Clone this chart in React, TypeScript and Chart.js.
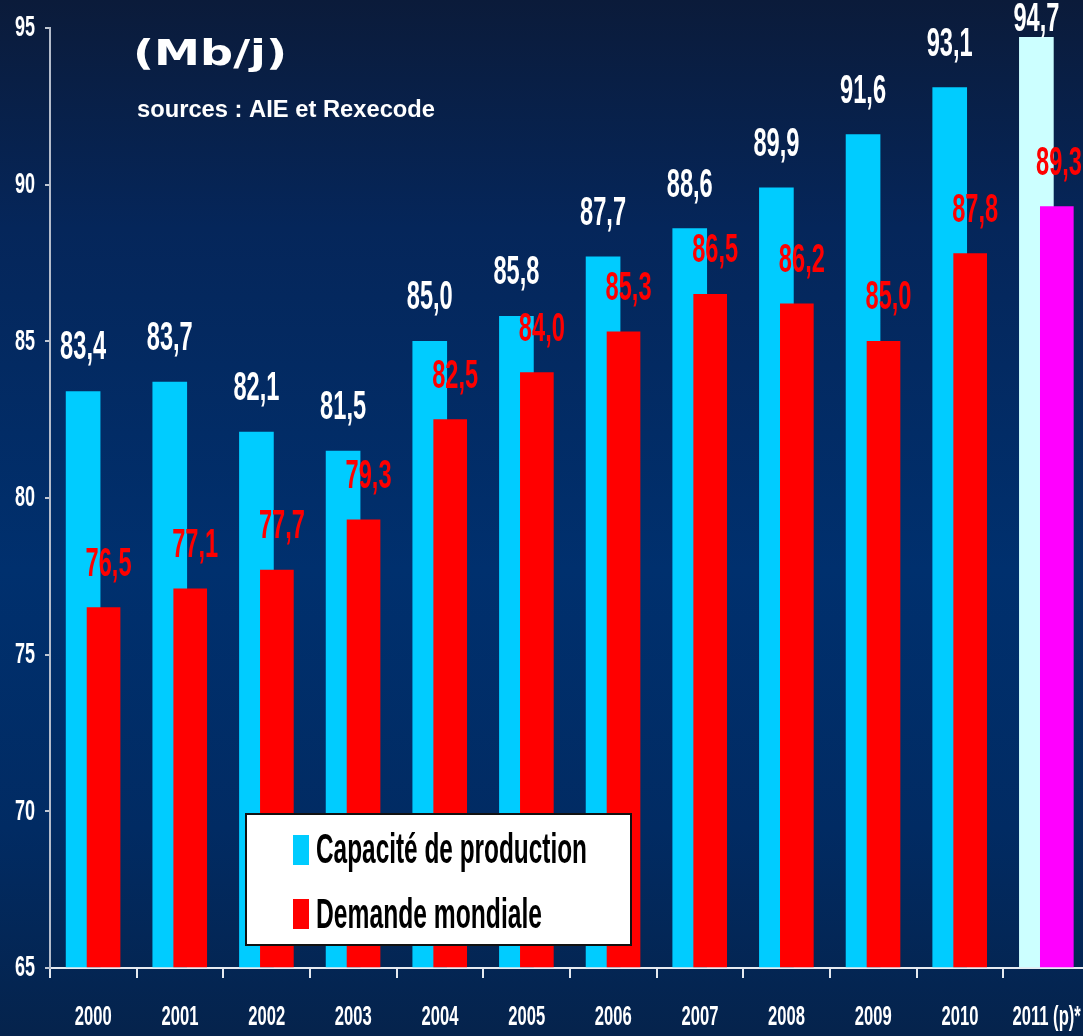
import React, { useEffect, useRef } from 'react';
import { Chart, registerables, LinearScale } from 'chart.js';

// ---------- data ----------
const years = ['2000', '2001', '2002', '2003', '2004', '2005', '2006', '2007', '2008', '2009', '2010', '2011 (p)*'];
const capacity = [83.4, 83.7, 82.1, 81.5, 85.0, 85.8, 87.7, 88.6, 89.9, 91.6, 93.1, 94.7];
const demand = [76.5, 77.1, 77.7, 79.3, 82.5, 84.0, 85.3, 86.5, 86.2, 85.0, 87.8, 89.3];
const yTicks = [65, 70, 75, 80, 85, 90, 95];
const seriesNames = ['Capacité de production', 'Demande mondiale'];
const capacityColors = ['#00CCFF', '#00CCFF', '#00CCFF', '#00CCFF', '#00CCFF', '#00CCFF', '#00CCFF', '#00CCFF', '#00CCFF', '#00CCFF', '#00CCFF', '#CCFFFF'];
const demandColors = ['#FF0000', '#FF0000', '#FF0000', '#FF0000', '#FF0000', '#FF0000', '#FF0000', '#FF0000', '#FF0000', '#FF0000', '#FF0000', '#FF00FF'];
const labelColors = ['#FFFFFF', '#FF0000'];
const unitText = '(Mb/j)';
const sourceText = 'sources : AIE et Rexecode';

// ---------- layout constants ----------
const W = 1083;
const H = 1036;
const SANS = "'Liberation Sans', Arial, sans-serif";
const GROUP_SHIFT = 0.118; // half-distance between the two bars of a year, in category units

// horizontally condensed tick labels (Arial Narrow look)
const SQUEEZE: Record<string, { sample: string; width: number }> = {
  x: { sample: '2000', width: 37 },
  y: { sample: '85', width: 20 },
};

class CondensedLinearScale extends LinearScale {
  static id = 'condensedLinear';
  static defaults = LinearScale.defaults;
  drawLabels(chartArea: any) {
    const self: any = this;
    const opts = self.options;
    if (!opts.ticks.display) return;
    const ctx: CanvasRenderingContext2D = self.ctx;
    const sq = SQUEEZE[self.id];
    const items = self.getLabelItems(chartArea);
    for (const item of items) {
      const o = item.options;
      ctx.save();
      ctx.font = item.font.string;
      const sx = sq ? sq.width / ctx.measureText(sq.sample).width : 1;
      ctx.translate(o.translation[0], o.translation[1]);
      if (o.rotation) ctx.rotate(o.rotation);
      ctx.scale(sx, 1);
      ctx.fillStyle = o.color;
      ctx.textAlign = o.textAlign;
      ctx.textBaseline = o.textBaseline;
      const lines = Array.isArray(item.label) ? item.label : [item.label];
      lines.forEach((line: any, k: number) => ctx.fillText(String(line), 0, item.textOffset + k * item.font.lineHeight));
      ctx.restore();
    }
  }
}

Chart.register(...registerables, CondensedLinearScale);

function drawFit(ctx: CanvasRenderingContext2D, text: string, x: number, y: number, font: string, width: number, align: CanvasTextAlign, color: string) {
  ctx.save();
  ctx.font = font;
  const w = ctx.measureText(text).width;
  ctx.translate(x, y);
  ctx.scale(width / w, 1);
  ctx.textAlign = align;
  ctx.textBaseline = 'alphabetic';
  ctx.fillStyle = color;
  ctx.fillText(text, 0, 0);
  ctx.restore();
}

const valueLabels = {
  id: 'valueLabels',
  afterDatasetsDraw(chart: any) {
    const ctx: CanvasRenderingContext2D = chart.ctx;
    const sources = [capacity, demand];
    const xShift = [0, 5];
    chart.data.datasets.forEach((_ds: any, di: number) => {
      const meta = chart.getDatasetMeta(di);
      meta.data.forEach((el: any, i: number) => {
        const text = sources[di][i].toFixed(1).replace('.', ',');
        let x = el.x + xShift[di];
        x = Math.min(x, W - 1 - 23);
        const y = Math.max(el.y - 32, 31);
        drawFit(ctx, text, x, y, `bold 41px ${SANS}`, 46, 'center', labelColors[di]);
      });
    });
  },
};

const decorations = {
  id: 'decorations',
  afterDraw(chart: any) {
    const ctx: CanvasRenderingContext2D = chart.ctx;
    // unit + sources
    drawFit(ctx, unitText, 133, 65, "bold 36px 'DejaVu Sans', sans-serif", 154, 'left', '#FFFFFF');
    drawFit(ctx, sourceText, 137, 117, `bold 23px ${SANS}`, 298, 'left', '#FFFFFF');
    // legend box
    ctx.save();
    ctx.fillStyle = '#FFFFFF';
    ctx.fillRect(245, 813, 387, 133);
    ctx.strokeStyle = '#111111';
    ctx.lineWidth = 2;
    ctx.strokeRect(246, 814, 385, 131);
    ctx.restore();
    const rows = [
      { sqTop: 835, base: 863, width: 271 },
      { sqTop: 899, base: 928, width: 226 },
    ];
    chart.data.datasets.forEach((ds: any, di: number) => {
      const r = rows[di];
      ctx.fillStyle = ds.backgroundColor[0];
      ctx.fillRect(293, r.sqTop, 16, 30);
      drawFit(ctx, ds.label, 316, r.base, `bold 43px ${SANS}`, r.width, 'left', '#000000');
    });
  },
};

export default function App() {
  const ref = useRef<HTMLCanvasElement>(null);
  useEffect(() => {
    const tickFontY = { family: SANS, size: 30, weight: 'bold' as const };
    const tickFontX = { family: SANS, size: 28, weight: 'bold' as const };
    const chart = new Chart(ref.current as HTMLCanvasElement, {
      type: 'bar',
      data: {
        datasets: [
          {
            label: seriesNames[0],
            data: capacity.map((v, i) => ({ x: i - GROUP_SHIFT, y: v })),
            backgroundColor: capacityColors,
            barThickness: 34,
            grouped: false,
            order: 2,
            base: 65,
            clip: 0,
          } as any,
          {
            label: seriesNames[1],
            data: demand.map((v, i) => ({ x: i + GROUP_SHIFT, y: v })),
            backgroundColor: demandColors,
            barThickness: 33,
            grouped: false,
            order: 1,
            base: 65,
            clip: 0,
          } as any,
        ],
      },
      options: {
        animation: false,
        responsive: false,
        maintainAspectRatio: false,
        layout: { padding: { top: 24, right: 0, bottom: 0, left: 0 } },
        plugins: {
          legend: { display: false },
          tooltip: { enabled: false },
          title: { display: false },
        },
        scales: {
          x: {
            type: 'condensedLinear' as any,
            position: 'bottom',
            min: -0.5,
            max: 11.42,
            bounds: 'data',
            offset: false,
            afterBuildTicks: (s: any) => {
              s.ticks = years.map((_, i) => ({ value: i }));
            },
            afterFit: (s: any) => {
              s.height = 68;
              s.paddingLeft = 0;
              s.paddingRight = 0;
            },
            grid: {
              display: true,
              offset: true,
              drawOnChartArea: false,
              drawTicks: true,
              tickLength: 10,
              color: '#E6EAF0',
              lineWidth: 2,
            },
            border: { display: true, color: '#E6EAF0', width: 2 },
            ticks: {
              autoSkip: false,
              maxRotation: 0,
              minRotation: 0,
              padding: 22,
              color: '#FFFFFF',
              font: tickFontX,
              callback: (_v: any, i: number) => years[i],
            },
          } as any,
          y: {
            type: 'condensedLinear' as any,
            position: 'left',
            min: 65,
            max: 95,
            bounds: 'data',
            afterBuildTicks: (s: any) => {
              s.ticks = yTicks.map((v) => ({ value: v }));
            },
            afterFit: (s: any) => {
              s.width = 50;
            },
            grid: { drawOnChartArea: false, drawTicks: true, tickLength: 5, color: '#C0C8D4', lineWidth: 2 },
            border: { display: true, color: '#B4BCCB', width: 2 },
            ticks: {
              padding: 10,
              color: '#FFFFFF',
              font: tickFontY,
              callback: (v: any) => String(v),
            },
          } as any,
        },
      },
      plugins: [valueLabels, decorations],
    });
    return () => chart.destroy();
  }, []);

  return (
    <div
      style={{
        position: 'fixed',
        left: 0,
        top: 0,
        width: W,
        height: H,
        overflow: 'hidden',
        background: 'linear-gradient(180deg, #0b1b3a 0%, #05265a 22%, #00306e 55%, #012b63 80%, #05234c 100%)',
      }}
    >
      <canvas ref={ref} width={W} height={H} style={{ display: 'block', width: W, height: H }} />
    </div>
  );
}
